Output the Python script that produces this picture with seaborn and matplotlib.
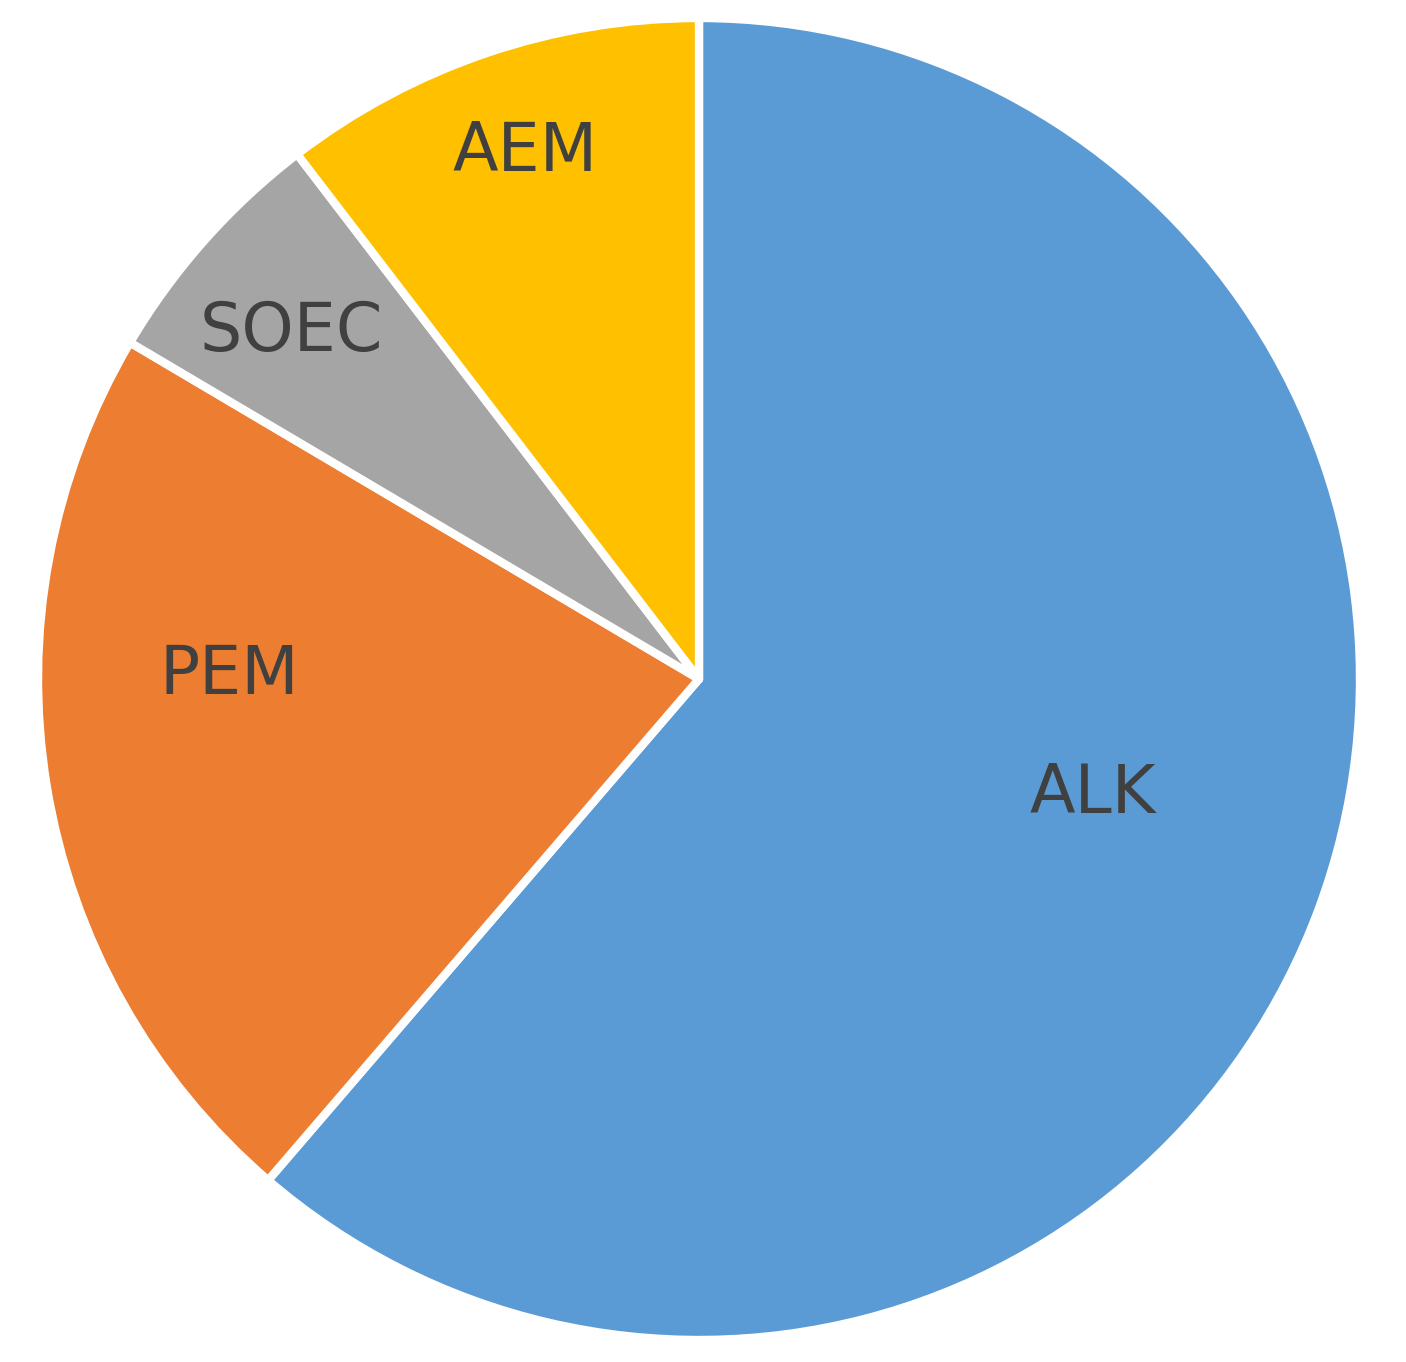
import numpy as np
import matplotlib
matplotlib.use("Agg")
import matplotlib.pyplot as plt
import seaborn as sns

# 各技術占比（從圖上估讀，%）
labels = ["ALK", "PEM", "SOEC", "AEM"]
shares = [61.3, 22.2, 6.1, 10.4]
colors = ["#5B9BD5", "#ED7D31", "#A5A5A5", "#FFC000"]

# 標籤位置微調：徑向距離、角度偏移（度）
label_dist = [0.62, 0.71, 0.81, 0.84]
label_shift = [4.0, -9.8, 1.2, -0.5]

sns.set_theme(style="white")
plt.rcParams['font.family'] = ['DejaVu Sans']

W, H = 1406, 1362
fig = plt.figure(figsize=(W / 100, H / 100), dpi=100)
cx, cy, r = 699, H - 679, 661
ax = fig.add_axes([(cx - r) / W, (cy - r) / H, 2 * r / W, 2 * r / H])

pal = sns.color_palette(colors)
wedges, _ = ax.pie(shares, colors=pal, startangle=90, counterclock=False,
                   radius=1.0, wedgeprops=dict(edgecolor="white", linewidth=6,
                                               joinstyle="round"))

for w, lab, d, s in zip(wedges, labels, label_dist, label_shift):
    mid = np.deg2rad((w.theta1 + w.theta2) / 2 + s)
    ax.text(d * np.cos(mid), d * np.sin(mid), lab, ha="center", va="center",
            fontsize=48, color="#404040")

ax.set_xlim(-1, 1)
ax.set_ylim(-1, 1)
ax.set_aspect("equal")
ax.axis("off")

fig.savefig("out.png", dpi=100, facecolor="white")
